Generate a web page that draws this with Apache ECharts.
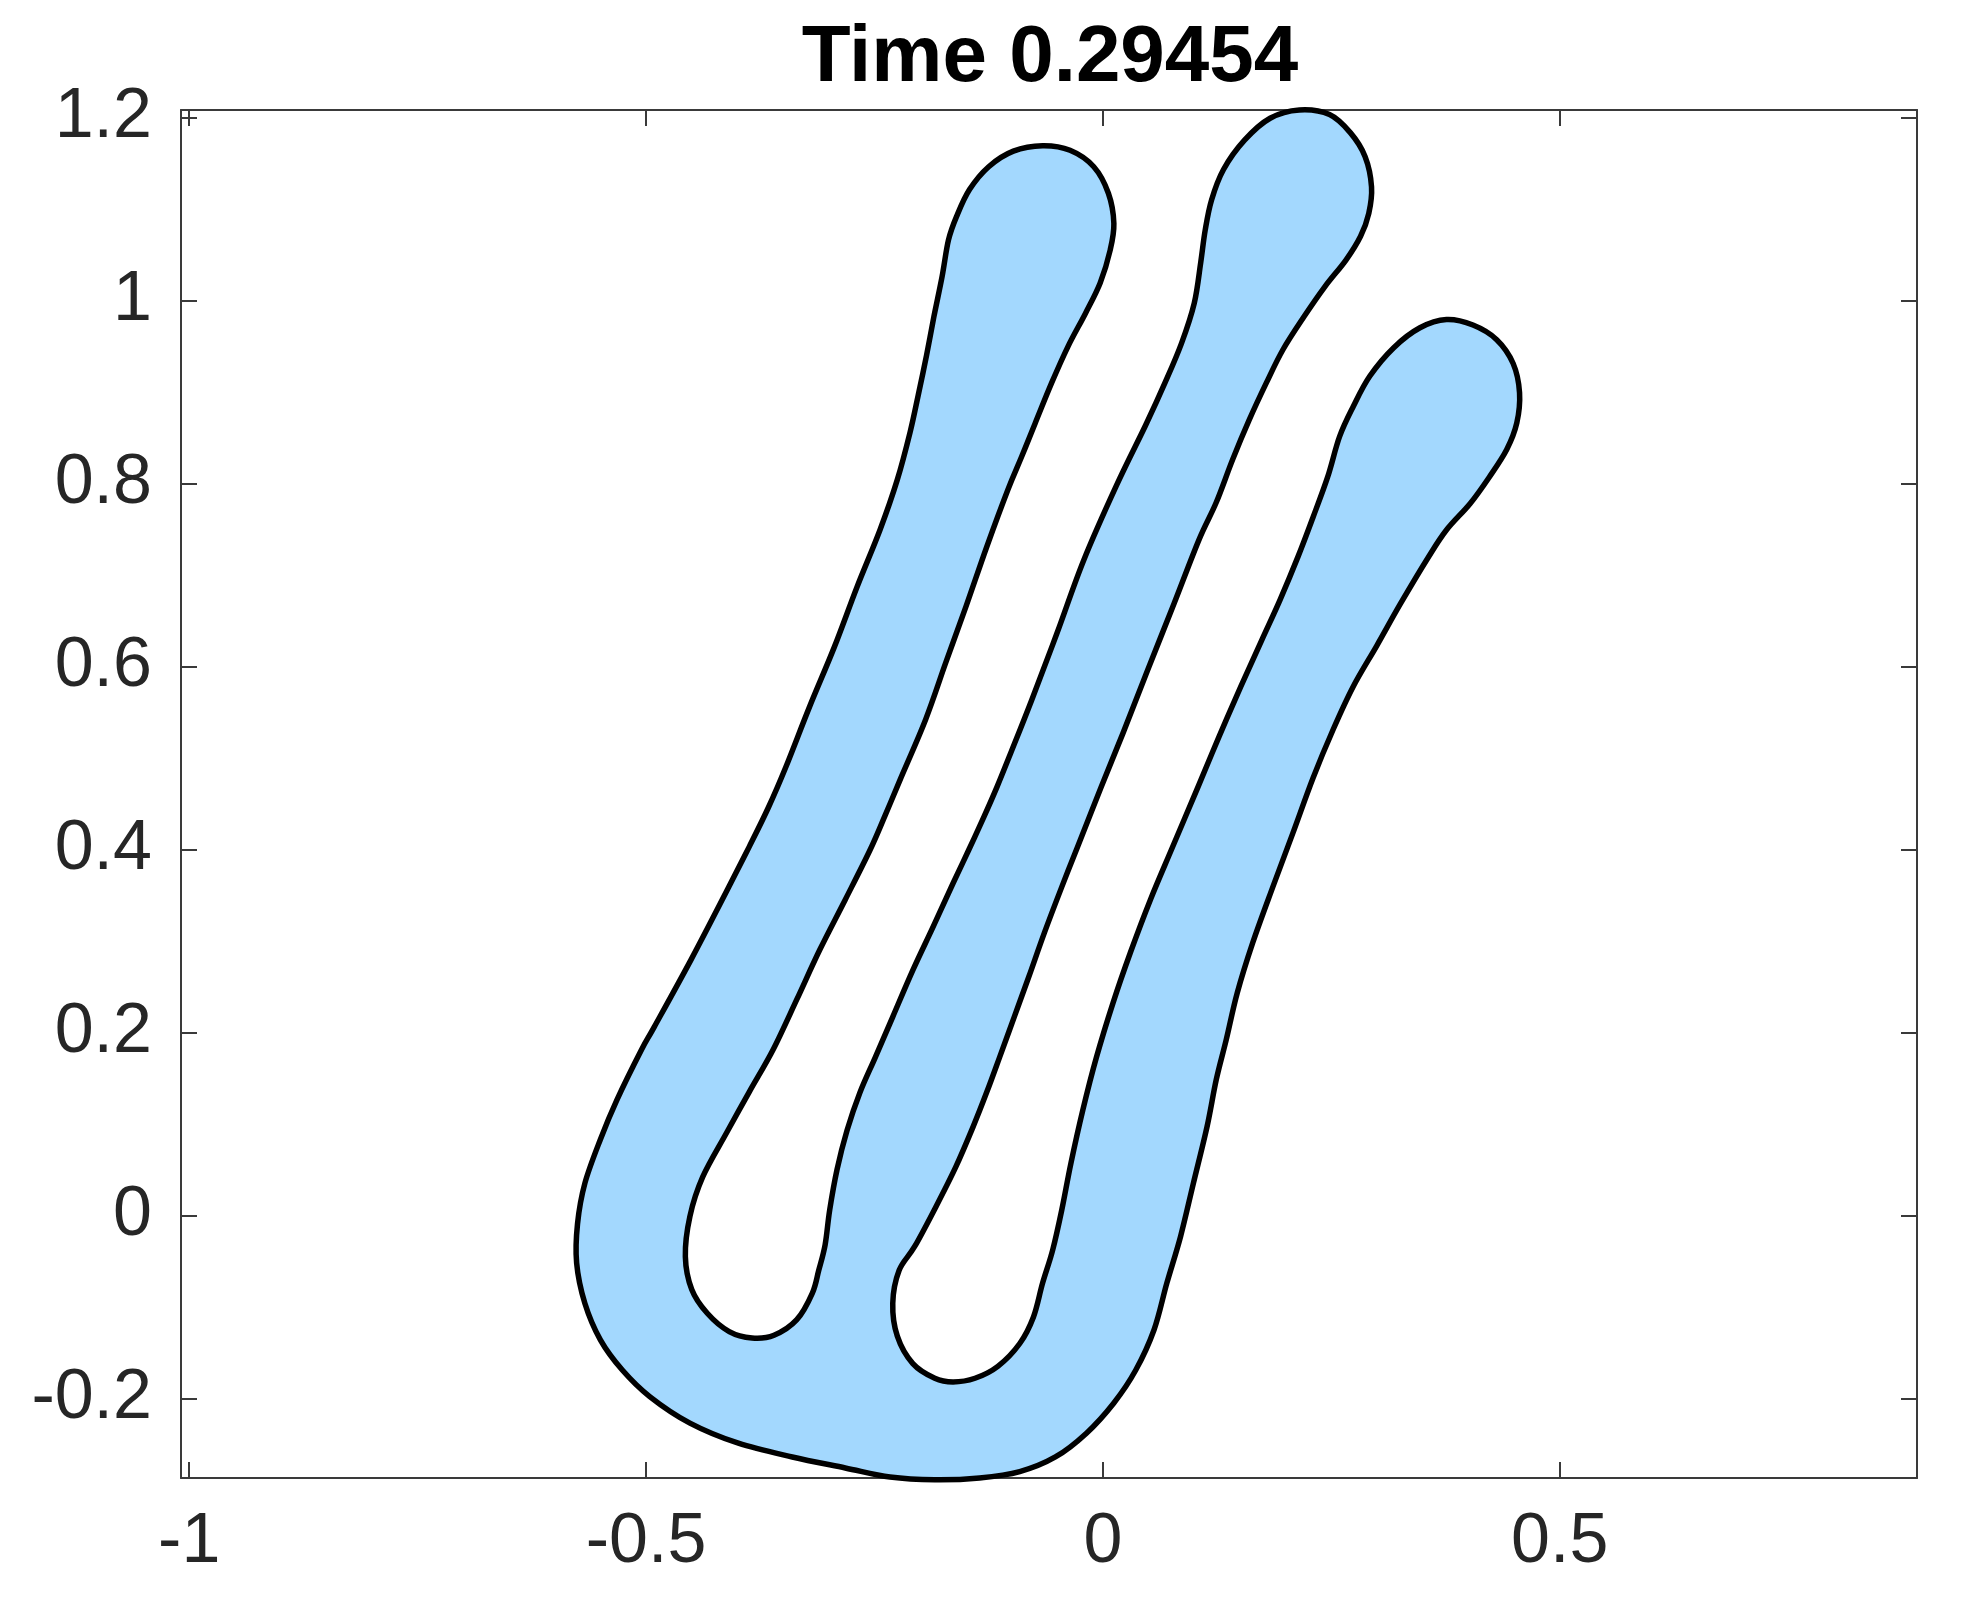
<!DOCTYPE html>
<html>

<head>
    <meta charset="utf-8">
    <title>Time 0.29454</title>
    <script src="https://cdn.jsdelivr.net/npm/echarts@6/dist/echarts.min.js"></script>
    <style>
        html, body { margin: 0; padding: 0; background: #ffffff; }
        #chart { width: 1962px; height: 1610px; }
    </style>
</head>

<body>
    <div id="chart"></div>

    <script type="text/javascript">
        var titleText = "Time 0.29454";
        var xTicks = [-1, -0.5, 0, 0.5];
        var yTicks = [-0.2, 0, 0.2, 0.4, 0.6, 0.8, 1, 1.2];
        var xRange = [-1.009, 0.891];
        var yRange = [-0.287, 1.208];

        // outline of the blob, one lap: bottom -> right finger -> middle finger -> left finger -> bottom
        var shapeX = [
            -0.184, -0.135, -0.091, -0.052, -0.018, 0.012, 0.036, 0.056, 0.070, 0.085,
            0.099, 0.114, 0.124, 0.135, 0.147, 0.164, 0.186, 0.208, 0.230, 0.252,
            0.274, 0.300, 0.326, 0.356, 0.376, 0.402, 0.423, 0.442, 0.453, 0.456,
            0.449, 0.431, 0.405, 0.376, 0.347, 0.318, 0.292, 0.274, 0.259, 0.246,
            0.230, 0.214, 0.194, 0.174, 0.151, 0.127, 0.104, 0.076, 0.052, 0.030,
            0.011, -0.007, -0.022, -0.035, -0.045, -0.055, -0.066, -0.076, -0.091, -0.115,
            -0.140, -0.164, -0.184, -0.208, -0.225, -0.230, -0.223, -0.206, -0.183, -0.161,
            -0.142, -0.127, -0.113, -0.097, -0.081, -0.064, -0.045, -0.028, -0.002, 0.022,
            0.049, 0.078, 0.105, 0.124, 0.142, 0.160, 0.179, 0.197, 0.220, 0.243,
            0.266, 0.282, 0.291, 0.294, 0.287, 0.271, 0.248, 0.215, 0.183, 0.155,
            0.132, 0.119, 0.112, 0.107, 0.100, 0.086, 0.068, 0.047, 0.015, -0.021,
            -0.050, -0.078, -0.101, -0.116, -0.130, -0.147, -0.164, -0.186, -0.208, -0.230,
            -0.249, -0.266, -0.280, -0.291, -0.299, -0.304, -0.311, -0.318, -0.335, -0.360,
            -0.384, -0.409, -0.433, -0.450, -0.457, -0.452, -0.438, -0.412, -0.387, -0.361,
            -0.335, -0.310, -0.282, -0.255, -0.238, -0.222, -0.194, -0.172, -0.150, -0.127,
            -0.104, -0.089, -0.074, -0.056, -0.038, -0.019, -0.003, 0.008, 0.012, 0.006,
            -0.010, -0.036, -0.066, -0.098, -0.125, -0.146, -0.160, -0.169, -0.176, -0.185,
            -0.193, -0.202, -0.211, -0.225, -0.244, -0.269, -0.294, -0.321, -0.347, -0.366,
            -0.387, -0.413, -0.451, -0.491, -0.505, -0.532, -0.550, -0.567, -0.575, -0.576,
            -0.567, -0.550, -0.526, -0.496, -0.452, -0.399, -0.340, -0.282, -0.233
        ];
        var shapeY = [
            -0.289, -0.287, -0.280, -0.264, -0.238, -0.205, -0.169, -0.125, -0.074, -0.023,
            0.035, 0.097, 0.148, 0.192, 0.243, 0.298, 0.359, 0.418, 0.478, 0.531,
            0.578, 0.623, 0.669, 0.719, 0.749, 0.778, 0.807, 0.837, 0.866, 0.899,
            0.931, 0.957, 0.973, 0.979, 0.970, 0.948, 0.917, 0.884, 0.851, 0.807,
            0.763, 0.721, 0.673, 0.629, 0.578, 0.523, 0.468, 0.402, 0.345, 0.287,
            0.232, 0.173, 0.115, 0.057, 0.006, -0.038, -0.074, -0.111, -0.140, -0.165,
            -0.178, -0.182, -0.178, -0.162, -0.132, -0.096, -0.060, -0.034, 0.009, 0.053,
            0.097, 0.135, 0.173, 0.217, 0.261, 0.309, 0.359, 0.402, 0.468, 0.527,
            0.596, 0.669, 0.738, 0.779, 0.826, 0.869, 0.910, 0.946, 0.982, 1.015,
            1.044, 1.070, 1.095, 1.124, 1.157, 1.183, 1.203, 1.208, 1.199, 1.175,
            1.143, 1.110, 1.077, 1.041, 0.997, 0.953, 0.910, 0.864, 0.798, 0.716,
            0.637, 0.563, 0.505, 0.468, 0.436, 0.399, 0.363, 0.315, 0.268, 0.217,
            0.173, 0.134, 0.093, 0.050, 0.006, -0.032, -0.060, -0.085, -0.114, -0.131,
            -0.134, -0.127, -0.107, -0.081, -0.045, -0.001, 0.042, 0.090, 0.135, 0.181,
            0.236, 0.290, 0.345, 0.399, 0.438, 0.476, 0.542, 0.604, 0.665, 0.731,
            0.793, 0.829, 0.866, 0.910, 0.950, 0.986, 1.019, 1.055, 1.084, 1.117,
            1.146, 1.164, 1.169, 1.163, 1.146, 1.121, 1.092, 1.066, 1.026, 0.982,
            0.940, 0.897, 0.856, 0.804, 0.749, 0.687, 0.621, 0.556, 0.490, 0.446,
            0.403, 0.352, 0.279, 0.206, 0.181, 0.126, 0.083, 0.035, -0.009, -0.052,
            -0.096, -0.136, -0.169, -0.198, -0.227, -0.249, -0.264, -0.276, -0.286
        ];

        var fontFamily = '"Liberation Sans", Arial, Helvetica, sans-serif';
        var axisColor = '#3a3a3a';
        var labelColor = '#262626';

        function boxAxis(pos, range, ticks, showLabel) {
            return {
                type: 'value',
                position: pos,
                min: range[0],
                max: range[1],
                axisLine: { show: true, onZero: false, lineStyle: { color: axisColor, width: 2 } },
                axisTick: { show: true, inside: true, length: 16, customValues: ticks, lineStyle: { color: axisColor, width: 2 } },
                axisLabel: {
                    show: showLabel,
                    customValues: ticks,
                    margin: (pos === 'bottom') ? 30 : 29,
                    fontSize: 70,
                    fontFamily: fontFamily,
                    color: labelColor
                },
                splitLine: { show: false }
            };
        }

        // closed catmull-rom curve through the pixel points -> svg path string
        function closedCurve(pts) {
            var n = pts.length;
            var d = 'M' + pts[0][0] + ' ' + pts[0][1];
            for (var i = 0; i < n; i++) {
                var p0 = pts[(i - 1 + n) % n], p1 = pts[i], p2 = pts[(i + 1) % n], p3 = pts[(i + 2) % n];
                d += ' C' + (p1[0] + (p2[0] - p0[0]) / 6) + ' ' + (p1[1] + (p2[1] - p0[1]) / 6)
                    + ' ' + (p2[0] - (p3[0] - p1[0]) / 6) + ' ' + (p2[1] - (p3[1] - p1[1]) / 6)
                    + ' ' + p2[0] + ' ' + p2[1];
            }
            return d + ' Z';
        }

        var myChart = echarts.init(document.getElementById('chart'), null, { renderer: 'canvas' });

        myChart.setOption({
            animation: false,
            backgroundColor: '#ffffff',
            title: {
                text: titleText,
                left: 1045,
                top: 14,
                textAlign: 'center',
                textStyle: { fontSize: 80, fontWeight: 'bold', fontFamily: fontFamily, color: '#000000' }
            },
            grid: { left: 181, right: 45, top: 110, bottom: 132, containLabel: false },
            xAxis: [
                boxAxis('bottom', xRange, xTicks, true),
                boxAxis('top', xRange, xTicks, false)
            ],
            yAxis: [
                boxAxis('left', yRange, yTicks, true),
                boxAxis('right', yRange, yTicks, false)
            ],
            series: [{
                type: 'custom',
                xAxisIndex: 0,
                yAxisIndex: 0,
                clip: false,
                silent: true,
                z: 5,
                data: shapeX.map(function (x, i) { return [x, shapeY[i]]; }),
                renderItem: function (params, api) {
                    if (params.dataIndex !== 0) {
                        return null;
                    }
                    var pts = shapeX.map(function (x, i) {
                        return api.coord([x, shapeY[i]]);
                    });
                    return {
                        type: 'path',
                        shape: { pathData: closedCurve(pts) },
                        style: { fill: '#a3d8fe', stroke: '#000000', lineWidth: 5.5, lineJoin: 'round' }
                    };
                }
            }]
        });
    </script>
</body>

</html>
